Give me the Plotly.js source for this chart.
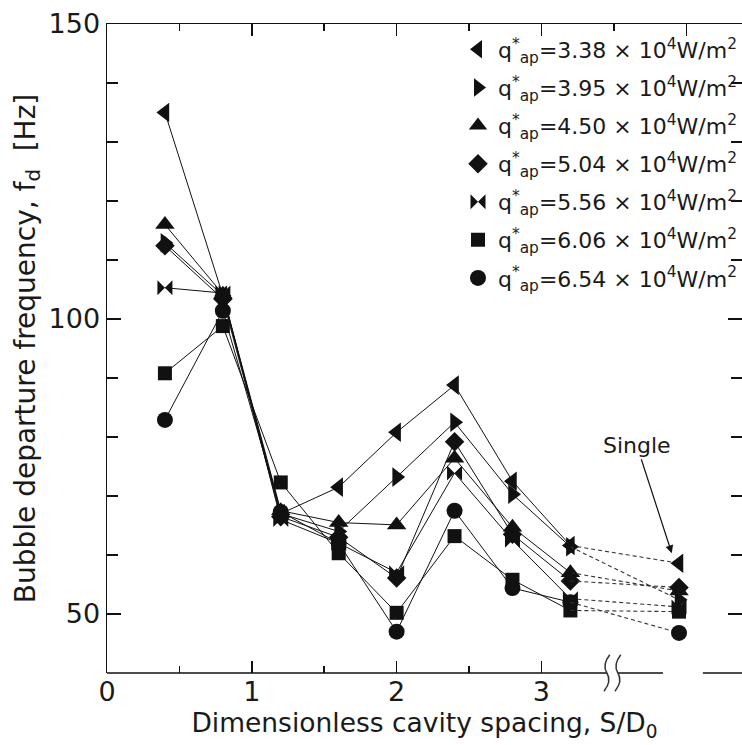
<!DOCTYPE html>
<html>
<head>
<meta charset="utf-8">
<script src="https://cdn.plot.ly/plotly-3.0.1.min.js"></script>
<style>html,body{margin:0;padding:0;background:#fff;}#chart{width:742px;height:745px;}</style>
</head>
<body>
<div id="chart"></div>
<script>
// Dimensionless cavity spacing S/D0
const spacing = [0.4, 0.8, 1.2, 1.6, 2.0, 2.4, 2.8, 3.2];
const singleX = 3.95; // "Single" cavity position (after axis break)

const heatFlux = ["3.38", "3.95", "4.50", "5.04", "5.56", "6.06", "6.54"];
const symbols = ["triangle-left", "triangle-right", "triangle-up", "diamond", "bowtie", "square", "circle"];

// Bubble departure frequency f_d [Hz]
const fd338 = [135.0, 104.0, 67.0, 71.5, 80.8, 88.8, 72.5, 61.6];
const fd395 = [112.9, 104.0, 67.0, 64.0, 73.2, 82.5, 70.3, 61.4];
const fd450 = [116.0, 104.2, 67.5, 65.5, 65.1, 76.4, 64.7, 57.0];
const fd504 = [112.4, 103.4, 66.5, 63.0, 56.1, 79.2, 63.5, 55.6];
const fd556 = [105.3, 104.4, 66.0, 62.0, 57.0, 73.9, 62.5, 52.6];
const fd606 = [90.8, 98.8, 72.3, 60.3, 50.2, 63.2, 55.8, 50.6];
const fd654 = [82.9, 101.4, 67.3, 62.0, 47.0, 67.5, 54.4, 52.0];

// single-cavity values
const single = [58.6, 52.4, 53.9, 54.5, 51.2, 50.4, 46.8];

const series = [fd338, fd395, fd450, fd504, fd556, fd606, fd654];
const sizes = [17, 17, 17, 15, 15, 14, 16];

const black = "#111";
const traces = [];
series.forEach((ys, i) => {
  traces.push({
    x: spacing, y: ys, type: "scatter", mode: "lines+markers",
    name: "q" + i,
    line: {color: black, width: 1},
    marker: {symbol: symbols[i], size: sizes[i], color: black},
    showlegend: false
  });
  traces.push({
    x: [spacing[spacing.length - 1], singleX], y: [ys[ys.length - 1], single[i]],
    type: "scatter", mode: "lines", line: {color: "#333", width: 1.1, dash: "4px,3px"},
    showlegend: false, hoverinfo: "skip"
  });
  traces.push({
    x: [singleX], y: [single[i]], type: "scatter", mode: "markers",
    marker: {symbol: symbols[i], size: sizes[i], color: black},
    showlegend: false
  });
});
// legend entries (marker only)
heatFlux.forEach((h, i) => {
  traces.push({
    x: [null], y: [null], type: "scatter", mode: "markers",
    name: "q<sup>*</sup><sub>ap</sub>=" + h + " × 10<sup>4</sup>W/m<sup>2</sup>",
    marker: {symbol: symbols[i], size: sizes[i], color: black},
    showlegend: true, legendgroup: "L" + i
  });
});
// dummy trace for the top axis
traces.push({x: [0], y: [40], xaxis: "x2", yaxis: "y", mode: "markers", marker: {opacity: 0}, showlegend: false, hoverinfo: "skip"});

const X0 = 0, X1 = 4.385;
const fam = "DejaVu Sans, Liberation Sans, Arial, sans-serif";
const yb = 0.028;
function sCurve(x) {
  return "M " + (x + 0.02) + "," + yb + " Q " + (x - 0.035) + "," + (yb * 0.45) + " " + x + ",0 Q " + (x + 0.035) + "," + (-yb * 0.45) + " " + (x - 0.02) + "," + (-yb);
}

const layout = {
  width: 742, height: 745,
  margin: {l: 107, r: 0, t: 24, b: 72},
  paper_bgcolor: "#fff", plot_bgcolor: "#fff",
  font: {family: fam, color: "#1a1a1a", size: 22},
  showlegend: true,
  legend: {x: 1, xanchor: "right", y: 0.993, yanchor: "top", bgcolor: "rgba(0,0,0,0)",
           font: {size: 22, family: fam, color: "#1a1a1a"}, tracegroupgap: 6.5, itemwidth: 30},
  xaxis: {
    range: [X0, X1], showline: false, zeroline: false, showgrid: false,
    tickmode: "array", tickvals: [0, 1, 2, 3], ticktext: ["0", "1", "2", "3"],
    ticks: "inside", ticklen: 12, tickwidth: 1.5, tickcolor: black,
    minor: {tickmode: "array", tickvals: [0.5, 1.5, 2.5], ticks: "inside", ticklen: 7, tickwidth: 1.5, tickcolor: black},
    tickfont: {size: 27, family: fam, color: "#1a1a1a"},
    title: {text: "Dimensionless cavity spacing, S/D<sub>0</sub>", font: {size: 26.5, family: fam, color: "#1a1a1a"}, standoff: 4}
  },
  xaxis2: {
    overlaying: "x", side: "top", matches: "x", range: [X0, X1],
    showline: true, linecolor: black, linewidth: 1.5, zeroline: false, showgrid: false,
    showticklabels: false, tickmode: "array", tickvals: [0, 1, 2, 3, 4],
    ticks: "inside", ticklen: 12, tickwidth: 1.5, tickcolor: black,
    minor: {tickmode: "array", tickvals: [0.5, 1.5, 2.5, 3.5], ticks: "inside", ticklen: 7, tickwidth: 1.5, tickcolor: black}
  },
  yaxis: {
    range: [40, 150], showline: true, linecolor: black, linewidth: 1.5, mirror: "ticks",
    zeroline: false, showgrid: false,
    tickmode: "array", tickvals: [50, 100, 150], ticktext: ["50", "100", "150"],
    ticks: "inside", ticklen: 14, tickwidth: 1.5, tickcolor: black,
    minor: {tickmode: "array", tickvals: [60, 70, 80, 90, 110, 120, 130, 140], ticks: "inside", ticklen: 11, tickwidth: 1.5, tickcolor: black},
    tickfont: {size: 27, family: fam, color: "#1a1a1a"},
    title: {text: "Bubble departure frequency, f<sub>d</sub>  [Hz]", font: {size: 28, family: fam, color: "#1a1a1a"}, standoff: 5}
  },
  shapes: [
    {type: "line", xref: "x", yref: "paper", x0: 0, x1: 3.452, y0: 0, y1: 0, line: {color: black, width: 1.5}},
    {type: "line", xref: "x", yref: "paper", x0: 3.528, x1: 3.839, y0: 0, y1: 0, line: {color: black, width: 1.5}},
    {type: "line", xref: "x", yref: "paper", x0: 4.115, x1: X1, y0: 0, y1: 0, line: {color: black, width: 1.5}},
    {type: "path", xref: "x", yref: "paper", path: sCurve(3.452), line: {color: "#333", width: 1.5}},
    {type: "path", xref: "x", yref: "paper", path: sCurve(3.528), line: {color: "#333", width: 1.5}}
  ],
  annotations: [
    {x: 3.9, y: 60.3, xref: "x", yref: "y", text: "Single", showarrow: true,
     ax: -35, ay: -108, arrowhead: 2, arrowsize: 1.3, arrowwidth: 1.2, arrowcolor: black,
     font: {size: 22, family: fam, color: "#1a1a1a"}}
  ]
};

Plotly.newPlot("chart", traces, layout, {displayModeBar: false, staticPlot: true});
</script>
</body>
</html>
